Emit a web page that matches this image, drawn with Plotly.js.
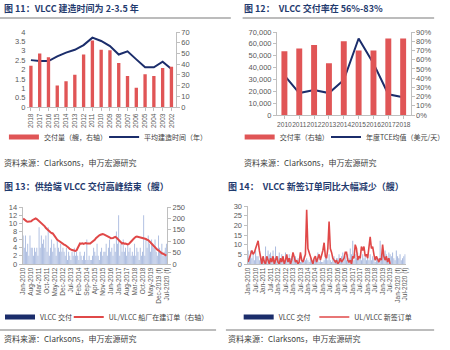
<!DOCTYPE html>
<html><head><meta charset="utf-8">
<script src="https://cdn.plot.ly/plotly-3.0.1.min.js"></script>
<style>html,body{margin:0;padding:0;background:#fff;}#chart{width:450px;height:350px;}</style>
</head><body><div id="chart"></div>
<script>
// ---- Figure 11 ----
const years11 = ["2018","2017","2016","2015","2014","2013","2012","2011","2010","2009","2008","2007","2006","2005","2004","2003","2002"];
const deliveries11 = [38.5,50,46.5,20,24,30,49,62,53.5,53,41,29,18,30.5,29,36.5,37.5];
const buildTime11 = [2.5,2.45,2.45,2.7,2.9,3.05,3.3,3.7,3.52,3.25,2.8,2.97,2.54,2.12,2.12,2.42,2.03];
// ---- Figure 12 ----
const years12 = ["2010","2011","2012","2013","2014","2015","2016","2017","2018"];
const tce12 = [33500,18500,21000,18500,29500,64500,43500,17500,15000];
const rate12 = [69,72,76,56,80,70,70,83,83];
// ---- Figure 13 / 14 (monthly, Jan-2010 .. Jul-2020) ----
const deliveriesMonthly = [
 7,4,7,3,5,2,7,4,4,2,4,3,
 4,2,9,4,7,5,6,4,7,3,9,2,
 4,6,3,5,4,2,6,4,3,5,3,4,
 3,2,4,1,3,2,1,3,2,4,2,3,
 2,1,3,2,1,2,3,1,6,1,2,1,
 1,2,4,3,2,5,2,1,3,4,2,3,
 3,5,2,4,6,3,4,2,5,3,8,5,
 12,2,5,3,6,3,4,2,5,3,4,2,
 3,2,5,2,4,3,1,4,2,3,12,2,
 6,4,7,5,3,6,5,4,6,3,2,7,
 4,3,5,2,3,4,5];
const orderbookMonthly = [
 200,195,190,187,185,186,188,187,192,196,199,200,
 197,193,188,183,178,174,170,165,158,152,147,141,
 139,136,134,128,120,112,106,103,99,94,90,88,
 85,83,80,76,71,66,62,61,60,58,57,60,
 72,84,90,89,91,88,90,92,90,89,91,90,
 94,97,100,106,113,119,123,126,128,130,131,130,
 128,126,124,121,117,113,112,114,117,119,116,110,
 103,97,94,90,92,89,90,87,86,88,92,97,
 104,110,116,119,120,119,118,117,116,114,112,113,
 110,106,105,100,94,88,82,76,72,67,63,60,
 55,50,47,45,42,40,37];
const newOrdersMonthly = [
 1,3,6,7,5,6,8,10,12,7,3,0,
 4,1,0,4,2,0,3,1,4,0,2,4,
 1,0,3,1,4,0,2,5,1,3,0,2,
 6,3,1,2,0,1,6,2,1,3,5,28,
 8,6,4,2,0,3,4,1,3,5,2,4,
 7,11,4,3,8,22,8,6,3,2,1,2,
 0,1,3,1,2,3,6,6,2,1,2,0,
 4,3,10,8,2,4,3,9,7,9,4,5,
 3,9,14,8,9,5,2,4,2,1,3,2,
 10,4,2,4,1,3,0];
const tickVals13 = ["Jan-2010","Aug-2010","Mar-2011","Oct-2011","May-2012","Dec-2012","Jul-2013","Feb-2014","Sep-2014","Apr-2015","Nov-2015","Jun-2016","Jan-2017","Aug-2017","Mar-2018","Oct-2018","May-2019","Dec-2019","Jul-2020"];
const tickText13 = ["Jan-2010","Aug-2010","Mar-2011","Oct-2011","May-2012","Dec-2012","Jul-2013","Feb-2014","Sep-2014","Apr-2015","Nov-2015","Jun-2016","Jan-2017","Aug-2017","Mar-2018","Oct-2018","May-2019","Dec-2019 (f)","Jul-2020 (f)"];
const tickVals14 = ["Jan-2010","Jul-2010","Jan-2011","Jul-2011","Jan-2012","Jul-2012","Jan-2013","Jul-2013","Jan-2014","Jul-2014","Jan-2015","Jul-2015","Jan-2016","Jul-2016","Jan-2017","Jul-2017","Jan-2018","Jul-2018","Jan-2019","Jul-2019","Jan-2020","Jul-2020"];
const tickText14 = ["Jan-2010","Jul-2010","Jan-2011","Jul-2011","Jan-2012","Jul-2012","Jan-2013","Jul-2013","Jan-2014","Jul-2014","Jan-2015","Jul-2015","Jan-2016","Jul-2016","Jan-2017","Jul-2017","Jan-2018","Jul-2018","Jan-2019","Jul-2019","Jan-2020 (f)","Jul-2020 (f)"];

const monthNames = ["Jan","Feb","Mar","Apr","May","Jun","Jul","Aug","Sep","Oct","Nov","Dec"];
const months = [];
for (let y = 2010; y <= 2020; y++) for (let m = 0; m < 12; m++) if (months.length < deliveriesMonthly.length) months.push(monthNames[m] + "-" + y);

const RED = '#e05556', NAVY = '#1b2d6b', LIGHTBLUE = '#a9badf', RLINE = '#e04848';
const W = 450, H = 350;
const px = v => v / W, py = v => 1 - v / H;
const FONT = '"Liberation Sans", "Noto Sans CJK SC", sans-serif';
const CJK = '"Noto Sans CJK SC", "Liberation Sans", sans-serif';
const tickFont = {family: FONT, size: 7.5, color: '#595959'};
const smallTick = {family: FONT, size: 6.5, color: '#595959'};

const traces = [
  {type:'bar', x:years11, y:deliveries11, xaxis:'x', yaxis:'y2', marker:{color:RED}, width:0.38, showlegend:false},
  {type:'scatter', mode:'lines', x:[null], y:[null], xaxis:'x', yaxis:'y2', line:{color:RED, width:5}, name:'交付量（艘，右轴）', legend:'legend'},
  {type:'scatter', mode:'lines', x:years11, y:buildTime11, xaxis:'x', yaxis:'y', line:{color:NAVY, width:2}, name:'平均建造时间（年）', legend:'legend2'},

  {type:'bar', x:years12, y:rate12, xaxis:'x2', yaxis:'y4', marker:{color:RED}, width:0.4, showlegend:false},
  {type:'scatter', mode:'lines', x:[null], y:[null], xaxis:'x2', yaxis:'y4', line:{color:RED, width:5}, name:'交付率（右轴）', legend:'legend3'},
  {type:'scatter', mode:'lines', x:years12, y:tce12, xaxis:'x2', yaxis:'y3', line:{color:NAVY, width:2}, name:'年度TCE均值（美元/天）', legend:'legend4'},

  {type:'bar', x:months, y:deliveriesMonthly, xaxis:'x3', yaxis:'y5', marker:{color:LIGHTBLUE}, showlegend:false},
  {type:'scatter', mode:'lines', x:[null], y:[null], xaxis:'x3', yaxis:'y5', line:{color:NAVY, width:5}, name:'VLCC 交付', legend:'legend5'},
  {type:'scatter', mode:'lines', x:months, y:orderbookMonthly, xaxis:'x3', yaxis:'y6', line:{color:RLINE, width:2}, name:'UL/VLCC 船厂在建订单（右轴）', legend:'legend6'},

  {type:'bar', x:months, y:deliveriesMonthly, xaxis:'x4', yaxis:'y7', marker:{color:LIGHTBLUE}, showlegend:false},
  {type:'scatter', mode:'lines', x:[null], y:[null], xaxis:'x4', yaxis:'y7', line:{color:NAVY, width:5}, name:'VLCC 交付', legend:'legend7'},
  {type:'scatter', mode:'lines', x:months.slice(0, newOrdersMonthly.length), y:newOrdersMonthly, xaxis:'x4', yaxis:'y7', line:{color:RLINE, width:1.6}, name:'UL/VLCC 新签订单', legend:'legend8'}
];

const axLine = {showline:true, linecolor:'#bfbfbf', linewidth:1, ticks:'outside', ticklen:3, tickcolor:'#bfbfbf', showgrid:false, zeroline:false, tickfont:tickFont, fixedrange:true};
const legFont = {family: CJK, size: 7, color:'#404040'};
const legBase = {orientation:'h', xanchor:'left', yanchor:'middle', font:legFont, bgcolor:'rgba(0,0,0,0)', itemwidth:30, borderwidth:0};
const leg = (x, y) => Object.assign({}, legBase, {x:px(x), y:py(y)});

const layout = {
  width:W, height:H, margin:{l:0,r:0,t:0,b:0}, paper_bgcolor:'#fff', plot_bgcolor:'#fff',
  bargap:0.2, showlegend:true, font:{family:FONT},
  xaxis:Object.assign({}, axLine, {domain:[px(27), px(179)], anchor:'y', type:'category', tickangle:-90, tickmode:'array', tickvals:years11, ticktext:years11, tickfont:smallTick}),
  yaxis:Object.assign({}, axLine, {domain:[py(107), py(32)], anchor:'x', range:[0,4], dtick:0.5, showline:false, ticks:''}),
  yaxis2:Object.assign({}, axLine, {overlaying:'y', side:'right', anchor:'x', range:[0,70], dtick:10}),

  xaxis2:Object.assign({}, axLine, {domain:[px(282), px(418)], anchor:'y3', type:'category', tickangle:0, tickmode:'array', tickvals:years12, ticktext:years12, tickfont:{family:FONT, size:6.6, color:'#595959'}}),
  yaxis3:Object.assign({}, axLine, {domain:[py(115), py(32)], anchor:'x2', range:[0,70000], dtick:10000, tickformat:','}),
  yaxis4:Object.assign({}, axLine, {overlaying:'y3', side:'right', anchor:'x2', range:[0,90], dtick:10, ticksuffix:'%'}),

  xaxis3:Object.assign({}, axLine, {domain:[px(23), px(170)], anchor:'y5', type:'category', tickangle:-90, tickmode:'array', tickvals:tickVals13, ticktext:tickText13, ticks:'', tickfont:smallTick}),
  yaxis5:Object.assign({}, axLine, {domain:[py(264), py(207)], anchor:'x3', range:[0,14], dtick:2}),
  yaxis6:Object.assign({}, axLine, {overlaying:'y5', side:'right', anchor:'x3', range:[0,250], dtick:50}),

  xaxis4:Object.assign({}, axLine, {domain:[px(252), px(413)], anchor:'y7', type:'category', tickangle:-90, tickmode:'array', tickvals:tickVals14, ticktext:tickText14, ticks:'', tickfont:smallTick}),
  yaxis7:Object.assign({}, axLine, {domain:[py(264), py(206)], anchor:'x4', range:[0,30], dtick:5}),

  legend:leg(4, 137), legend2:leg(106, 137),
  legend3:leg(244, 137), legend4:leg(332, 137),
  legend5:leg(0, 317), legend6:leg(70, 317),
  legend7:leg(243, 317), legend8:leg(320, 317),

  shapes:[
    {type:'line', xref:'paper', yref:'paper', x0:0, x1:px(235), y0:py(18), y1:py(18), line:{color:'#a6a6a6', width:1.5}},
    {type:'line', xref:'paper', yref:'paper', x0:px(247), x1:px(442), y0:py(18), y1:py(18), line:{color:'#a6a6a6', width:1.5}},
    {type:'line', xref:'paper', yref:'paper', x0:0, x1:px(220), y0:py(330), y1:py(330), line:{color:'#a6a6a6', width:1.5}},
    {type:'line', xref:'paper', yref:'paper', x0:px(230), x1:px(442), y0:py(330), y1:py(330), line:{color:'#a6a6a6', width:1.5}}
  ],
  annotations:[
    {text:'<b>图 11：VLCC 建造时间为 2-3.5 年</b>', x:px(2), y:py(9)},
    {text:'<b>图 12：  VLCC 交付率在 56%-83%</b>', x:px(246), y:py(9)},
    {text:'<b>图 13：供给端 VLCC 交付高峰结束（艘）</b>', x:px(2), y:py(186)},
    {text:'<b>图 14：  VLCC 新签订单同比大幅减少（艘）</b>', x:px(230), y:py(186)},
    {text:'资料来源：Clarksons，申万宏源研究', x:px(2), y:py(162), src:true},
    {text:'资料来源：Clarksons，申万宏源研究', x:px(246), y:py(162), src:true},
    {text:'资料来源：Clarksons，申万宏源研究', x:px(2), y:py(338), src:true},
    {text:'资料来源：Clarksons，申万宏源研究', x:px(230), y:py(338), src:true}
  ].map(a => ({text:a.text, x:a.x, y:a.y, xref:'paper', yref:'paper', xanchor:'left', yanchor:'middle', showarrow:false,
      font: a.src ? {family:CJK, size:8, color:'#404040'} : {family:CJK, size:9, color:'#1f3a6e'}}))
};

Plotly.newPlot('chart', traces, layout, {staticPlot:true, displayModeBar:false});
</script></body></html>
